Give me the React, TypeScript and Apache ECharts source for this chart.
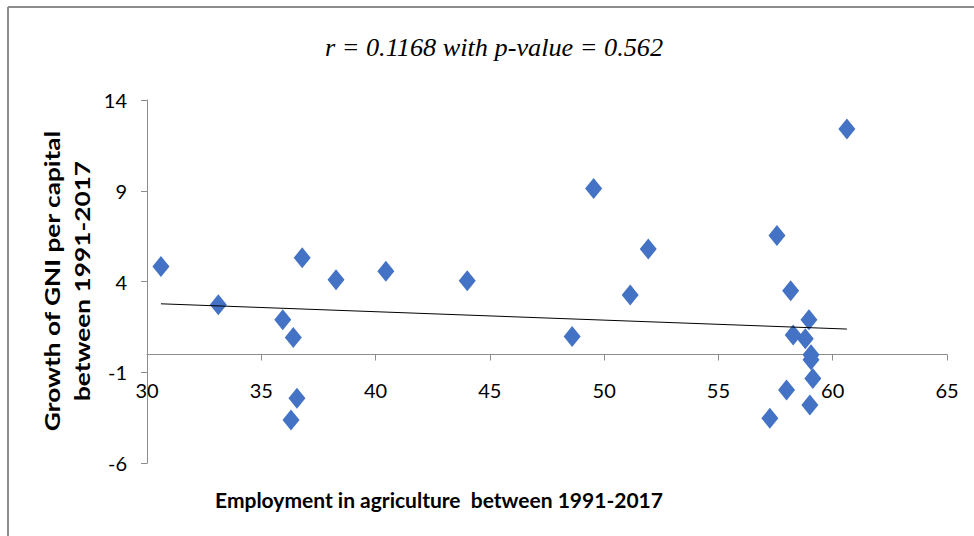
import React, { useEffect, useRef } from "react";
import * as echarts from "echarts";

const employment: number[] = [
  30.61, 33.12, 36.79, 38.27, 35.94, 36.4, 36.56, 36.3, 40.45, 44.01, 49.54, 51.93, 51.14,
  48.6, 60.62, 57.56, 58.16, 58.96, 58.27, 58.8, 59.05, 59.05, 59.13, 57.98, 59.0, 57.25,
];
const gniGrowth: number[] = [
  4.84, 2.73, 5.31, 4.11, 1.9, 0.93, -2.42, -3.61, 4.57, 4.05, 9.13, 5.8, 3.26,
  0.98, 12.4, 6.54, 3.5, 1.9, 1.06, 0.85, -0.03, -0.3, -1.33, -1.96, -2.79, -3.52,
];
const trendX: number[] = [30.61, 60.62];
const trendY: number[] = [2.78, 1.39];

const titleText = "r = 0.1168 with p-value = 0.562";
const xName = "Employment in agriculture  between 1991-2017";
const yName = "Growth of GNI per capital\nbetween 1991-2017";

export default function App() {
  const ref = useRef<HTMLDivElement>(null);
  useEffect(() => {
    if (!ref.current) return;
    const chart = echarts.init(ref.current, null, { renderer: "svg" });
    const axisColor = "#8c8c8c";
    chart.setOption({
      animation: false,
      backgroundColor: "#ffffff",
      grid: { left: 147, right: 27, top: 100, bottom: 72.7 },
      xAxis: {
        type: "value",
        min: 30,
        max: 65,
        interval: 5,
        position: "bottom",
        offset: -108.8,
        splitLine: { show: false },
        axisLine: { show: true, onZero: false, lineStyle: { color: axisColor, width: 1 } },
        axisTick: { show: true, length: 6, lineStyle: { color: axisColor } },
        axisLabel: { margin: 25, color: "#000", fontSize: 20, fontFamily: "Lato" },
      },
      yAxis: {
        type: "value",
        min: -6,
        max: 14,
        interval: 5,
        splitLine: { show: false },
        axisLine: { show: true, onZero: false, lineStyle: { color: axisColor, width: 1 } },
        axisTick: { show: true, length: 6, lineStyle: { color: axisColor } },
        axisLabel: { margin: 20, color: "#000", fontSize: 20, fontFamily: "Lato" },
      },
      graphic: [
        {
          type: "line",
          shape: { x1: 8, y1: 7, x2: 974, y2: 7 },
          style: { stroke: "#8c8c8c", lineWidth: 2 },
        },
        {
          type: "line",
          shape: { x1: 8, y1: 7, x2: 8, y2: 536 },
          style: { stroke: "#8c8c8c", lineWidth: 2 },
        },
        {
          type: "text",
          x: 494,
          y: 48,
          scaleX: 1.05,
          style: {
            text: titleText,
            fill: "#000",
            font: "italic 25px 'Liberation Serif'",
            textAlign: "center",
            textVerticalAlign: "middle",
          },
        },
        {
          type: "text",
          x: 439,
          y: 499,
          style: {
            text: xName,
            fill: "#000",
            font: "bold 21px Lato",
            textAlign: "center",
            textVerticalAlign: "middle",
          },
        },
        {
          type: "text",
          x: 67,
          y: 281,
          rotation: Math.PI / 2,
          scaleX: 1.25,
          style: {
            text: yName,
            fill: "#000",
            font: "bold 21px Lato",
            lineHeight: 30,
            textAlign: "center",
            textVerticalAlign: "middle",
          },
        },
      ],
      series: [
        {
          type: "scatter",
          symbol: "diamond",
          symbolSize: [17, 21],
          itemStyle: { color: "#4472C4", opacity: 1 },
          data: employment.map((x, i) => [x, gniGrowth[i]]),
          z: 3,
        },
        {
          type: "line",
          showSymbol: false,
          symbol: "none",
          lineStyle: { color: "#000", width: 1 },
          data: trendX.map((x, i) => [x, trendY[i]]),
          z: 4,
        },
      ],
    });
    return () => chart.dispose();
  }, []);
  return (
    <div
      ref={ref}
      style={{ position: "fixed", left: 0, top: 0, width: 974, height: 536, background: "#fff" }}
    />
  );
}
